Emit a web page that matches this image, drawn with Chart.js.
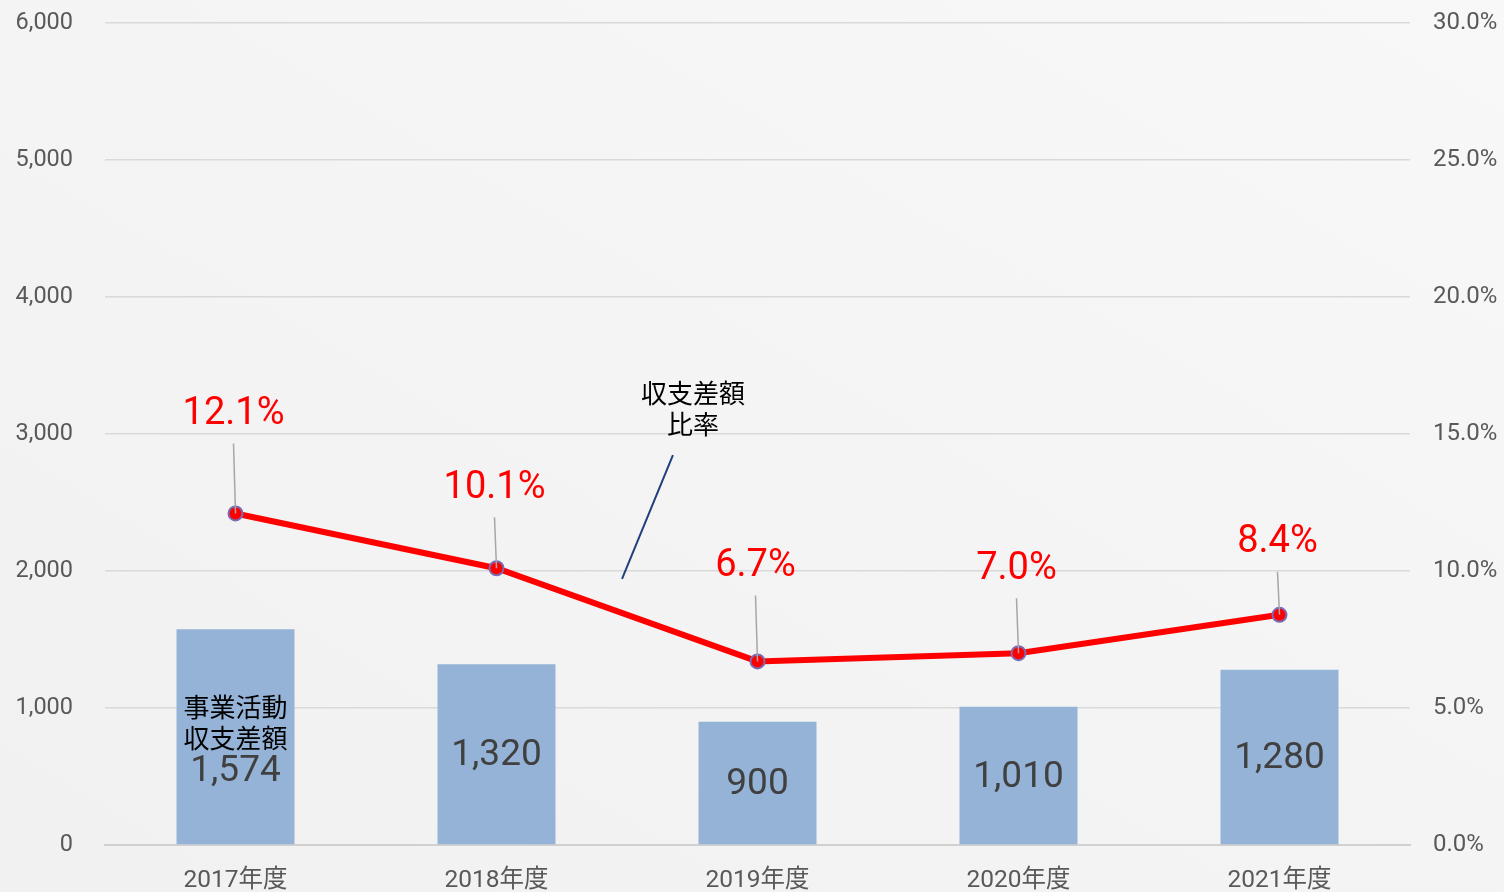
<!DOCTYPE html>
<html>
<head>
<meta charset="utf-8">
<script src="https://cdn.jsdelivr.net/npm/chart.js@4/dist/chart.umd.min.js"></script>
<style>
  html, body { margin: 0; padding: 0; }
  body { width: 1504px; height: 892px; overflow: hidden;
         background: linear-gradient(to top right, #f1f1f1 0%, #f4f4f4 50%, #f8f8f8 100%); }
  #c { display: block; }
</style>
</head>
<body>
<canvas id="c" width="1504" height="892"></canvas>
<script>
// ---- data ----
const categories = ['2017年度', '2018年度', '2019年度', '2020年度', '2021年度'];
const balanceAmounts = [1574, 1320, 900, 1010, 1280];          // 事業活動収支差額
const balanceRatios = [12.1, 10.1, 6.7, 7.0, 8.4];             // 収支差額比率 (%)
const barSeriesName = ['事業活動', '収支差額'];
const lineSeriesName = ['収支差額', '比率'];
const leftTicks = [0, 1000, 2000, 3000, 4000, 5000, 6000];
const rightTicks = [0, 5, 10, 15, 20, 25, 30];

const FONT = 'Roboto, "Noto Sans CJK JP", "Noto Sans", sans-serif';
const JFONT = '"Noto Sans CJK JP", Roboto, sans-serif';

const labelPlugin = {
  id: 'customLabels',
  afterDatasetsDraw(chart, args, opts) {
    const ctx = chart.ctx;
    const barMeta = chart.getDatasetMeta(0);
    const lineMeta = chart.getDatasetMeta(1);
    ctx.save();
    ctx.textAlign = 'center';
    ctx.textBaseline = 'middle';
    // bar labels
    barMeta.data.forEach((bar, i) => {
      const cy = (bar.y + bar.base) / 2;
      const val = balanceAmounts[i].toLocaleString('en-US');
      if (i === 0) {
        ctx.font = '26px ' + JFONT;
        ctx.fillStyle = '#000000';
        ctx.fillText(barSeriesName[0], bar.x, cy - 30);
        ctx.fillText(barSeriesName[1], bar.x, cy + 1);
        ctx.font = '37px ' + FONT;
        ctx.fillStyle = '#404040';
        ctx.fillText(val, bar.x, cy + 35);
      } else {
        ctx.font = '37px ' + FONT;
        ctx.fillStyle = '#404040';
        ctx.fillText(val, bar.x, cy + 2);
      }
    });
    // line labels with leader lines
    lineMeta.data.forEach((pt, i) => {
      const off = opts.offsets[i];
      const ly = pt.y - off;
      ctx.strokeStyle = '#a6a6a6';
      ctx.lineWidth = 1.5;
      ctx.beginPath();
      ctx.moveTo(pt.x - 2, ly + 29);
      ctx.lineTo(pt.x, pt.y);
      ctx.stroke();
      ctx.font = '38px ' + FONT;
      ctx.fillStyle = '#ff0000';
      ctx.fillText(balanceRatios[i].toFixed(1) + '%', pt.x - 2, ly);
    });
    // series callout for the line
    const xs = chart.scales.x, y1 = chart.scales.y1;
    const xAt = (v) => {
      const a = xs.getPixelForValue(0), b = xs.getPixelForValue(1);
      return a + (b - a) * v;
    };
    ctx.strokeStyle = '#203f7c';
    ctx.lineWidth = 2;
    ctx.beginPath();
    ctx.moveTo(xAt(1.676), y1.getPixelForValue(14.23));
    ctx.lineTo(xAt(1.481), y1.getPixelForValue(9.71));
    ctx.stroke();
    ctx.font = '26px ' + JFONT;
    ctx.fillStyle = '#000000';
    ctx.fillText(lineSeriesName[0], xAt(1.753), y1.getPixelForValue(16.5));
    ctx.fillText(lineSeriesName[1], xAt(1.753), y1.getPixelForValue(15.36));
    ctx.restore();
  }
};

new Chart(document.getElementById('c'), {
  type: 'bar',
  data: {
    labels: categories,
    datasets: [
      {
        type: 'bar',
        data: balanceAmounts,
        yAxisID: 'y',
        backgroundColor: '#95b3d7',
        categoryPercentage: 1,
        barPercentage: 0.452,
        order: 2
      },
      {
        type: 'line',
        data: balanceRatios,
        yAxisID: 'y1',
        borderColor: '#ff0000',
        borderWidth: 6,
        pointRadius: 7,
        pointBackgroundColor: '#ff0000',
        pointBorderColor: '#7b6ab3',
        pointBorderWidth: 2,
        tension: 0,
        order: 1
      }
    ]
  },
  options: {
    responsive: false,
    devicePixelRatio: 1,
    animation: false,
    layout: { padding: { top: 23, left: 0, right: 0, bottom: 0 } },
    plugins: {
      legend: { display: false },
      tooltip: { enabled: false },
      customLabels: { offsets: [99, 80, 95, 84, 72] }
    },
    scales: {
      x: {
        grid: { display: false, drawTicks: false },
        border: { display: true, color: '#d0d0d0', width: 2 },
        ticks: { color: '#595959', font: { family: FONT, size: 24.5 }, padding: 21, maxRotation: 0 },
        afterFit(s) { s.height = 47; s.paddingLeft = 0; s.paddingRight = 0; }
      },
      y: {
        position: 'left',
        min: 0, max: 6000,
        afterBuildTicks(s) { s.ticks = leftTicks.map(v => ({ value: v })); },
        grid: { color: '#d9d9d9', lineWidth: 1.5, drawTicks: false },
        border: { display: false },
        ticks: {
          color: '#595959', font: { family: FONT, size: 23.5 }, padding: 32,
          callback: (v) => Number(v).toLocaleString('en-US')
        },
        afterFit(s) { s.width = 105; s.paddingTop = 0; s.paddingBottom = 0; }
      },
      y1: {
        position: 'right',
        min: 0, max: 30,
        afterBuildTicks(s) { s.ticks = rightTicks.map(v => ({ value: v })); },
        grid: { display: false, drawTicks: false },
        border: { display: false },
        ticks: {
          color: '#595959', font: { family: FONT, size: 24 }, padding: 23,
          callback: (v) => Number(v).toFixed(1) + '%'
        },
        afterFit(s) { s.width = 94; s.paddingTop = 0; s.paddingBottom = 0; }
      }
    }
  },
  plugins: [labelPlugin]
});
</script>
</body>
</html>
